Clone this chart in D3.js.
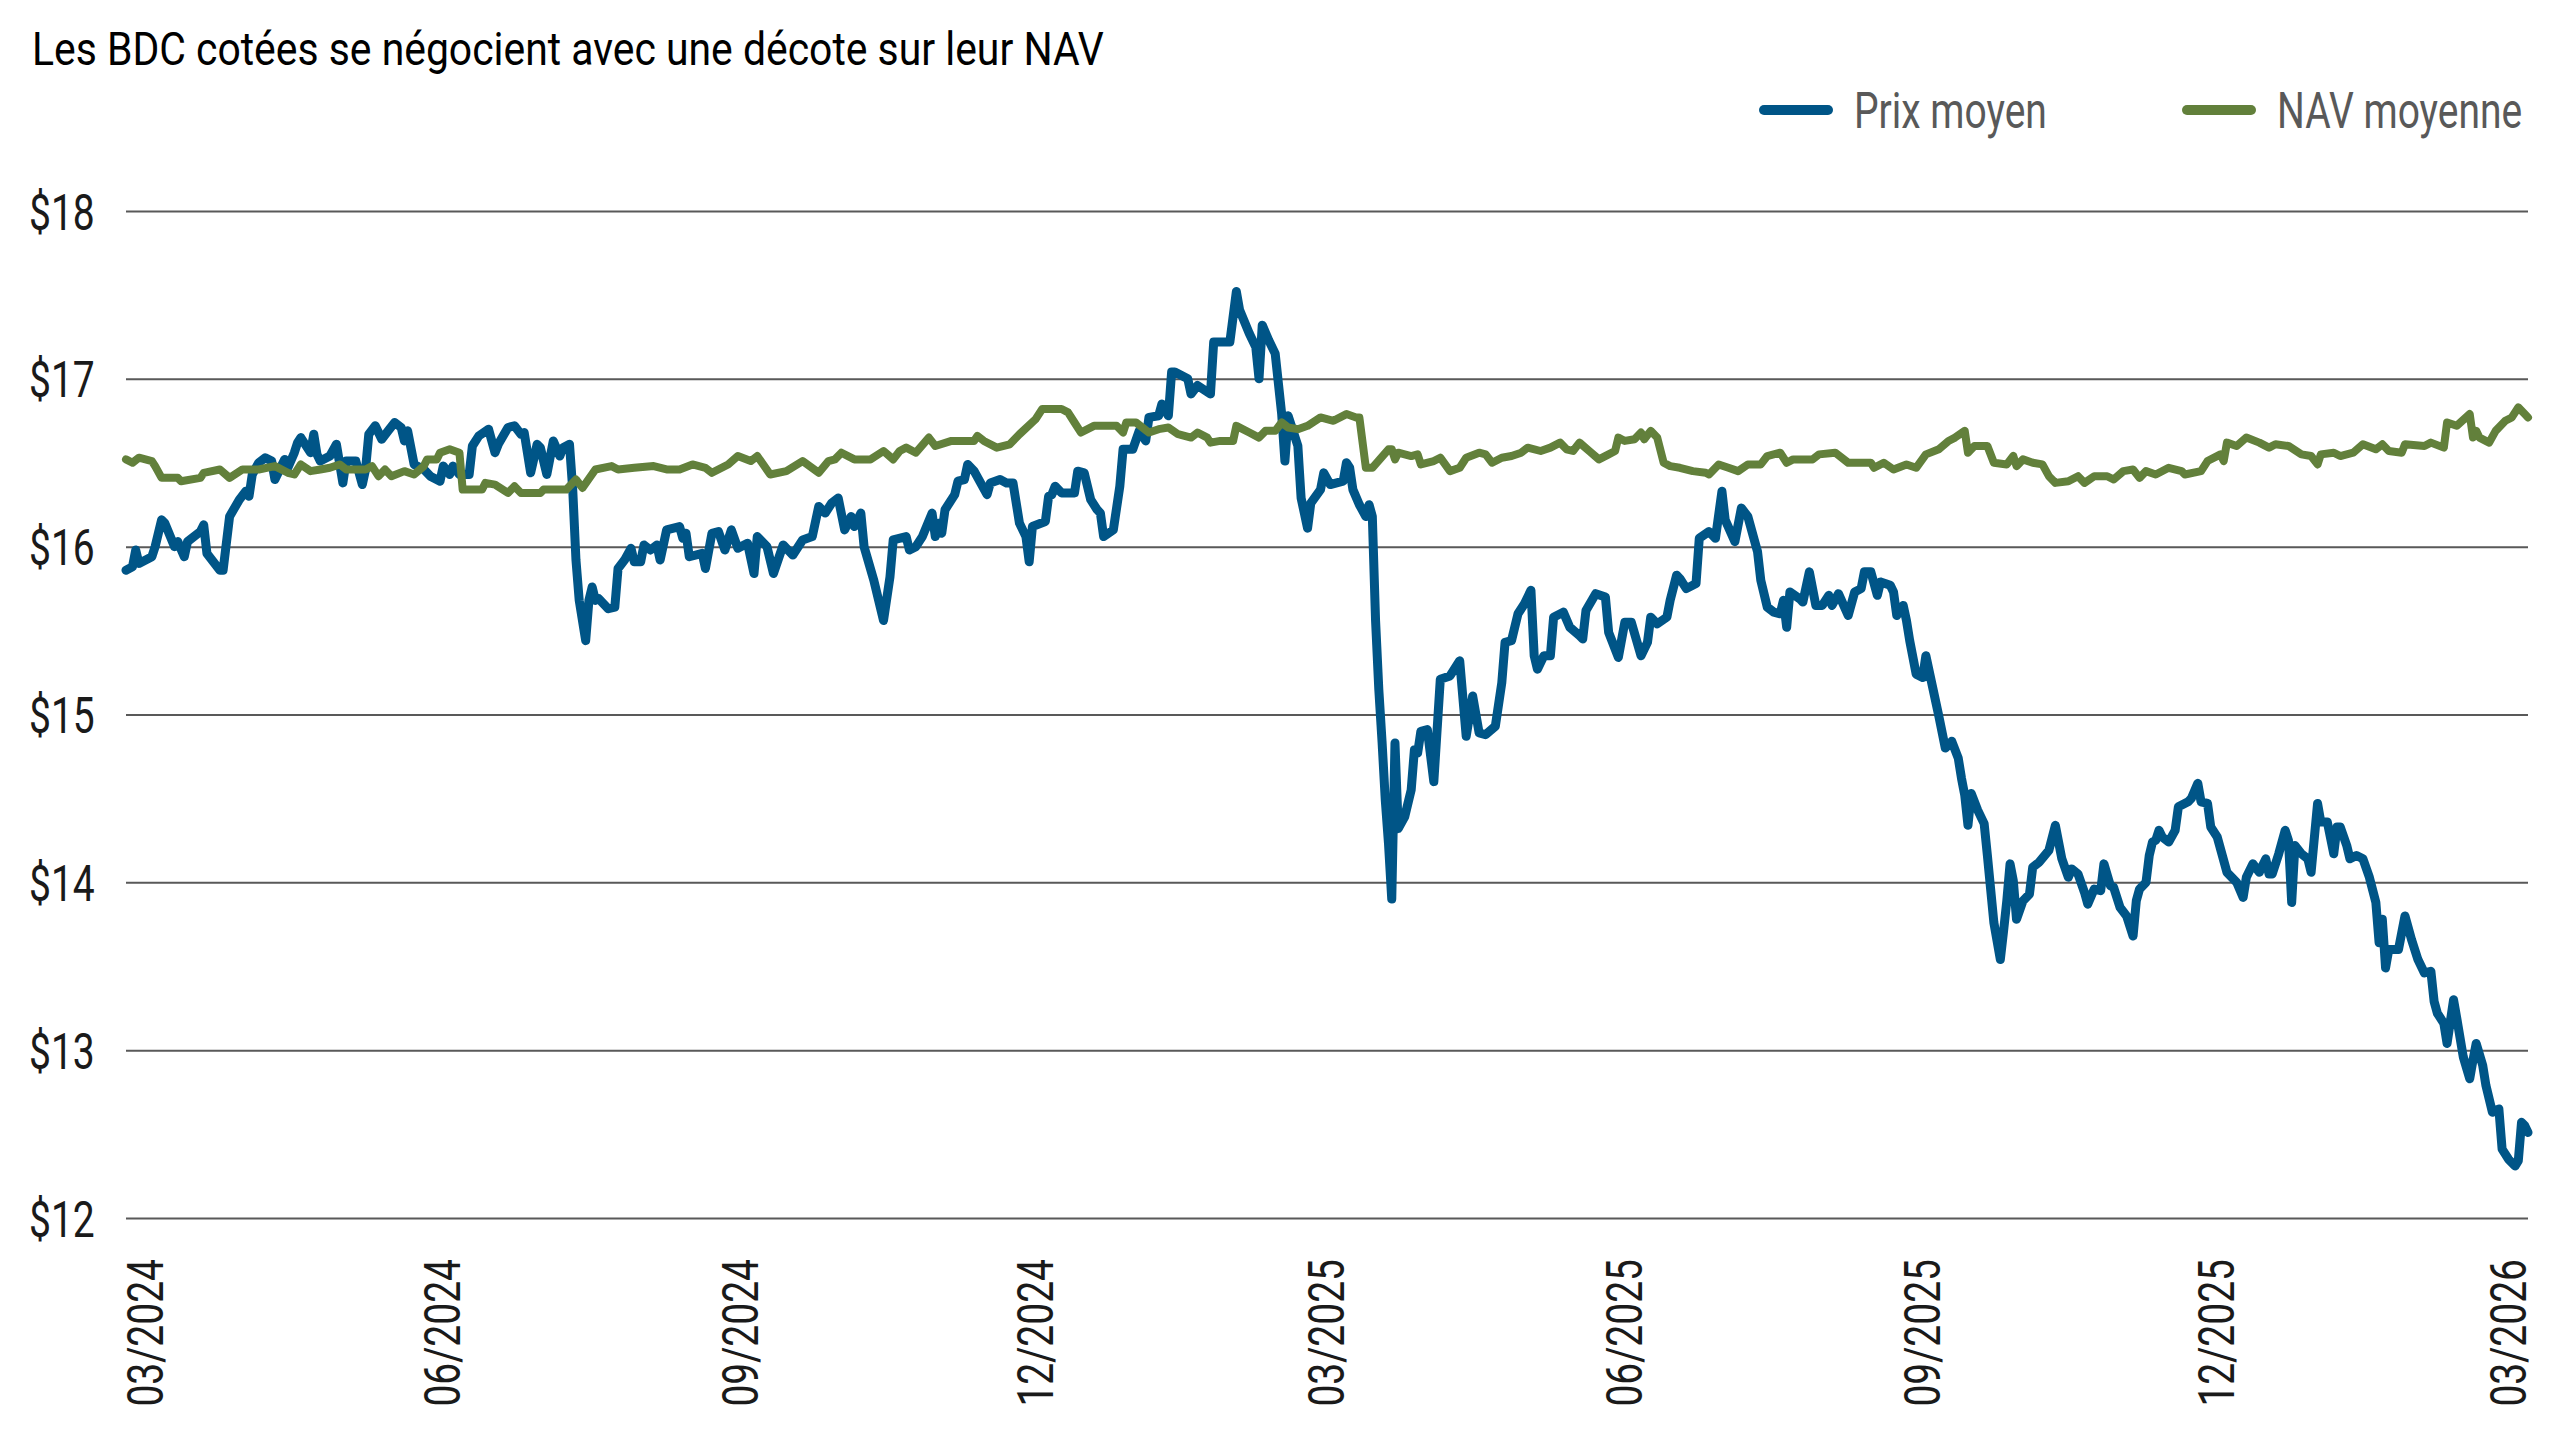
<!DOCTYPE html>
<html lang="fr">
<head>
<meta charset="UTF-8">
<title>Les BDC cotées se négocient avec une décote sur leur NAV</title>
<script src="https://d3js.org/d3.v7.min.js"></script>
<style>
  body { margin: 0; background: #fff; }
  svg { display: block; font-family: Roboto, "Liberation Sans", sans-serif; }
</style>
</head>
<body>
<div id="chart"></div>
<script>
const titleText = "Les BDC cotées se négocient avec une décote sur leur NAV";
const seriesNames = ["Prix moyen", "NAV moyenne"];
const seriesColors = ["#005587", "#62803b"];
const yTicks = [12, 13, 14, 15, 16, 17, 18];
const xTickDates = ["2024-03-01", "2024-06-01", "2024-09-01", "2024-12-01", "2025-03-01",
  "2025-06-01", "2025-09-01", "2025-12-01", "2026-03-01"];

// Prix moyen (one month per line)
const prixDates = [
  "2024-03-01","2024-03-03","2024-03-04","2024-03-05","2024-03-09","2024-03-10","2024-03-12","2024-03-13","2024-03-16","2024-03-17","2024-03-19","2024-03-20","2024-03-24","2024-03-25","2024-03-26","2024-03-30","2024-03-31",
  "2024-04-02","2024-04-05","2024-04-07","2024-04-08","2024-04-09","2024-04-11","2024-04-13","2024-04-15","2024-04-16","2024-04-17","2024-04-19","2024-04-20","2024-04-22","2024-04-23","2024-04-24","2024-04-25","2024-04-27","2024-04-28","2024-04-29","2024-04-30",
  "2024-05-03","2024-05-05","2024-05-07","2024-05-08","2024-05-11","2024-05-13","2024-05-14","2024-05-15","2024-05-17","2024-05-19","2024-05-21","2024-05-23","2024-05-25","2024-05-26","2024-05-27","2024-05-29",
  "2024-06-01","2024-06-03","2024-06-06","2024-06-07","2024-06-09","2024-06-10","2024-06-12","2024-06-15","2024-06-16","2024-06-18","2024-06-21","2024-06-23","2024-06-24","2024-06-27","2024-06-29",
  "2024-07-01","2024-07-02","2024-07-04","2024-07-06","2024-07-07","2024-07-09","2024-07-11","2024-07-13","2024-07-14","2024-07-16","2024-07-17","2024-07-18","2024-07-19","2024-07-21","2024-07-22","2024-07-23","2024-07-24","2024-07-25","2024-07-28","2024-07-30","2024-07-31",
  "2024-08-02","2024-08-04","2024-08-05","2024-08-07","2024-08-08","2024-08-10","2024-08-12","2024-08-13","2024-08-15","2024-08-19","2024-08-20","2024-08-21","2024-08-22","2024-08-26","2024-08-27","2024-08-29","2024-08-31",
  "2024-09-02","2024-09-03","2024-09-04","2024-09-06","2024-09-09","2024-09-11","2024-09-12","2024-09-15","2024-09-17","2024-09-20","2024-09-23","2024-09-26","2024-09-29",
  "2024-10-01","2024-10-03","2024-10-05","2024-10-07","2024-10-09","2024-10-11","2024-10-12","2024-10-14","2024-10-15","2024-10-18","2024-10-21","2024-10-23","2024-10-24","2024-10-28","2024-10-29","2024-10-31",
  "2024-11-02","2024-11-05","2024-11-06","2024-11-07","2024-11-08","2024-11-09","2024-11-12","2024-11-13","2024-11-15","2024-11-16","2024-11-18","2024-11-20","2024-11-22","2024-11-23","2024-11-26","2024-11-28","2024-11-30",
  "2024-12-02","2024-12-04","2024-12-05","2024-12-06","2024-12-10","2024-12-11","2024-12-12","2024-12-13","2024-12-15","2024-12-19","2024-12-20","2024-12-22","2024-12-24","2024-12-26","2024-12-27","2024-12-28","2024-12-31",
  "2025-01-02","2025-01-03","2025-01-06","2025-01-08","2025-01-10","2025-01-11","2025-01-14","2025-01-15","2025-01-17","2025-01-18","2025-01-19","2025-01-23","2025-01-24","2025-01-26","2025-01-30","2025-01-31",
  "2025-02-05","2025-02-07","2025-02-08","2025-02-11","2025-02-13","2025-02-14","2025-02-15","2025-02-17","2025-02-19","2025-02-21","2025-02-22","2025-02-23","2025-02-25","2025-02-26","2025-02-27",
  "2025-03-01","2025-03-02","2025-03-05","2025-03-06","2025-03-08","2025-03-10","2025-03-12","2025-03-13","2025-03-14","2025-03-15","2025-03-17","2025-03-19","2025-03-20","2025-03-21","2025-03-22","2025-03-23","2025-03-24","2025-03-25","2025-03-26","2025-03-27","2025-03-28","2025-03-29","2025-03-31",
  "2025-04-02","2025-04-03","2025-04-04","2025-04-05","2025-04-07","2025-04-09","2025-04-11","2025-04-14","2025-04-17","2025-04-19","2025-04-21","2025-04-23","2025-04-25","2025-04-28","2025-04-30",
  "2025-05-01","2025-05-03","2025-05-05","2025-05-07","2025-05-09","2025-05-10","2025-05-11","2025-05-13","2025-05-15","2025-05-16","2025-05-19","2025-05-21","2025-05-24","2025-05-25","2025-05-26","2025-05-29",
  "2025-06-01","2025-06-02","2025-06-05","2025-06-07","2025-06-09","2025-06-12","2025-06-14","2025-06-15","2025-06-17","2025-06-20","2025-06-21","2025-06-23","2025-06-24","2025-06-26","2025-06-29","2025-06-30",
  "2025-07-03","2025-07-05","2025-07-07","2025-07-08","2025-07-11","2025-07-13","2025-07-15","2025-07-17","2025-07-18","2025-07-19","2025-07-21","2025-07-23","2025-07-25","2025-07-26","2025-07-27","2025-07-28","2025-07-31",
  "2025-08-01","2025-08-03","2025-08-05","2025-08-07","2025-08-09","2025-08-10","2025-08-12","2025-08-15","2025-08-17","2025-08-19","2025-08-20","2025-08-22","2025-08-24","2025-08-25","2025-08-28","2025-08-29","2025-08-30",
  "2025-09-01","2025-09-02","2025-09-03","2025-09-05","2025-09-07","2025-09-08","2025-09-10","2025-09-12","2025-09-14","2025-09-16","2025-09-18","2025-09-19","2025-09-20","2025-09-21","2025-09-22","2025-09-24","2025-09-26","2025-09-27","2025-09-28","2025-09-29",
  "2025-10-01","2025-10-02","2025-10-03","2025-10-04","2025-10-05","2025-10-06","2025-10-08","2025-10-10","2025-10-11","2025-10-13","2025-10-16","2025-10-18","2025-10-20","2025-10-22","2025-10-23","2025-10-25","2025-10-27","2025-10-28","2025-10-30",
  "2025-11-01","2025-11-02","2025-11-04","2025-11-05","2025-11-07","2025-11-09","2025-11-11","2025-11-12","2025-11-13","2025-11-15","2025-11-16","2025-11-17","2025-11-18","2025-11-19","2025-11-20","2025-11-22","2025-11-24","2025-11-25","2025-11-28","2025-11-29",
  "2025-12-01","2025-12-02","2025-12-04","2025-12-05","2025-12-07","2025-12-08","2025-12-10","2025-12-13","2025-12-15","2025-12-16","2025-12-18","2025-12-20","2025-12-22","2025-12-23","2025-12-24","2025-12-26","2025-12-28","2025-12-29","2025-12-30","2025-12-31",
  "2026-01-02","2026-01-04","2026-01-05","2026-01-07","2026-01-08","2026-01-10","2026-01-12","2026-01-13","2026-01-14","2026-01-16","2026-01-17","2026-01-19","2026-01-21","2026-01-23","2026-01-25","2026-01-26","2026-01-27","2026-01-28","2026-01-29",
  "2026-02-01","2026-02-03","2026-02-05","2026-02-07","2026-02-09","2026-02-11","2026-02-12","2026-02-13","2026-02-15","2026-02-16","2026-02-18","2026-02-19","2026-02-21","2026-02-23","2026-02-24","2026-02-25","2026-02-27","2026-02-28",
  "2026-03-02","2026-03-04","2026-03-05","2026-03-07","2026-03-09","2026-03-10","2026-03-11","2026-03-12","2026-03-13"
];
const prixValues = [
  15.86,15.88,15.98,15.90,15.94,16.00,16.16,16.14,16.00,16.03,15.94,16.03,16.09,16.13,15.96,15.86,15.86,
  16.18,16.28,16.33,16.30,16.43,16.50,16.53,16.51,16.40,16.44,16.52,16.47,16.56,16.62,16.65,16.62,16.56,16.67,16.55,16.51,
  16.54,16.61,16.38,16.51,16.51,16.37,16.46,16.67,16.72,16.64,16.69,16.74,16.71,16.63,16.69,16.49,
  16.46,16.42,16.39,16.48,16.43,16.48,16.43,16.43,16.60,16.66,16.70,16.56,16.61,16.71,16.72,
  16.67,16.68,16.44,16.61,16.59,16.43,16.63,16.54,16.59,16.61,16.34,15.92,15.68,15.44,15.68,15.76,15.68,15.69,15.63,15.64,15.87,
  15.92,15.99,15.91,15.91,16.01,15.98,16.01,15.92,16.10,16.12,16.05,16.08,15.94,15.96,15.87,16.08,16.09,
  15.98,16.04,16.10,15.99,16.02,15.84,16.06,16.00,15.84,16.01,15.95,16.04,16.06,
  16.24,16.20,16.26,16.29,16.10,16.18,16.12,16.20,16.00,15.80,15.56,15.82,16.04,16.06,15.98,16.00,
  16.06,16.20,16.06,16.14,16.08,16.22,16.31,16.39,16.40,16.49,16.45,16.38,16.31,16.38,16.40,16.38,16.38,
  16.14,16.06,15.91,16.12,16.15,16.30,16.31,16.36,16.32,16.32,16.45,16.44,16.28,16.22,16.20,16.06,16.10,
  16.36,16.58,16.58,16.69,16.63,16.77,16.78,16.85,16.78,17.04,17.04,17.00,16.91,16.96,16.91,17.22,
  17.22,17.52,17.41,17.27,17.19,17.00,17.32,17.23,17.15,16.79,16.51,16.78,16.66,16.60,16.29,
  16.11,16.26,16.34,16.44,16.37,16.38,16.39,16.50,16.47,16.34,16.25,16.18,16.25,16.18,15.56,15.15,14.84,14.49,14.23,13.90,14.83,14.32,14.39,
  14.55,14.79,14.77,14.90,14.91,14.60,15.21,15.23,15.32,14.87,15.11,14.89,14.88,14.93,15.19,
  15.43,15.44,15.60,15.66,15.74,15.35,15.27,15.35,15.35,15.58,15.61,15.52,15.47,15.45,15.62,15.72,
  15.70,15.49,15.34,15.55,15.55,15.35,15.43,15.58,15.54,15.58,15.68,15.83,15.81,15.75,15.78,16.05,
  16.09,16.05,16.33,16.16,16.03,16.23,16.18,16.04,15.97,15.80,15.64,15.61,15.60,15.68,15.52,15.73,15.69,
  15.67,15.85,15.65,15.65,15.71,15.65,15.72,15.59,15.73,15.75,15.85,15.85,15.71,15.79,15.77,15.73,15.59,
  15.65,15.56,15.44,15.24,15.22,15.35,15.17,14.99,14.80,14.84,14.74,14.62,14.52,14.34,14.53,14.43,14.35,14.16,13.96,13.76,
  13.54,13.71,13.89,14.11,14.01,13.78,13.89,13.93,14.09,14.12,14.19,14.34,14.14,14.03,14.08,14.05,13.94,13.87,13.96,
  13.95,14.11,13.98,13.97,13.85,13.80,13.68,13.89,13.96,14.00,14.16,14.24,14.25,14.31,14.27,14.24,14.31,14.45,14.48,14.50,
  14.59,14.48,14.47,14.33,14.27,14.20,14.06,14.00,13.91,14.03,14.11,14.06,14.14,14.05,14.05,14.17,14.31,14.25,13.88,14.22,
  14.17,14.14,14.06,14.47,14.36,14.36,14.17,14.33,14.33,14.22,14.14,14.16,14.14,14.03,13.88,13.64,13.78,13.49,13.60,
  13.60,13.80,13.66,13.54,13.46,13.47,13.29,13.22,13.16,13.04,13.30,13.19,12.96,12.83,12.94,13.04,12.91,12.79,
  12.63,12.65,12.41,12.35,12.31,12.34,12.57,12.55,12.51
];

// NAV moyenne (one month per line)
const navDates = [
  "2024-03-01","2024-03-03","2024-03-05","2024-03-09","2024-03-10","2024-03-12","2024-03-17","2024-03-18","2024-03-24","2024-03-25","2024-03-30",
  "2024-04-02","2024-04-06","2024-04-11","2024-04-16","2024-04-20","2024-04-22","2024-04-24","2024-04-27","2024-04-30",
  "2024-05-03","2024-05-06","2024-05-08","2024-05-14","2024-05-16","2024-05-18","2024-05-20","2024-05-22","2024-05-26","2024-05-29",
  "2024-06-01","2024-06-02","2024-06-05","2024-06-06","2024-06-09","2024-06-12","2024-06-13","2024-06-19","2024-06-20","2024-06-23","2024-06-27","2024-06-29",
  "2024-07-01","2024-07-07","2024-07-08","2024-07-15","2024-07-18","2024-07-20","2024-07-24","2024-07-29","2024-07-31",
  "2024-08-05","2024-08-11","2024-08-15","2024-08-19","2024-08-23","2024-08-27","2024-08-29",
  "2024-09-03","2024-09-06","2024-09-10","2024-09-12","2024-09-16","2024-09-21","2024-09-26",
  "2024-10-01","2024-10-04","2024-10-06","2024-10-08","2024-10-12","2024-10-17","2024-10-21","2024-10-24","2024-10-26","2024-10-28","2024-10-31",
  "2024-11-04","2024-11-06","2024-11-11","2024-11-18","2024-11-19","2024-11-21","2024-11-25","2024-11-29",
  "2024-12-02","2024-12-07","2024-12-09","2024-12-15","2024-12-17","2024-12-19","2024-12-21","2024-12-25",
  "2025-01-01","2025-01-03","2025-01-04","2025-01-07","2025-01-11","2025-01-14","2025-01-17","2025-01-20","2025-01-24","2025-01-26","2025-01-29","2025-01-30",
  "2025-02-02","2025-02-06","2025-02-07","2025-02-11","2025-02-14","2025-02-16","2025-02-19","2025-02-21","2025-02-23","2025-02-26",
  "2025-03-01","2025-03-05","2025-03-09","2025-03-13","2025-03-16","2025-03-17","2025-03-19","2025-03-21","2025-03-26","2025-03-27","2025-03-28","2025-03-29",
  "2025-04-02","2025-04-04","2025-04-05","2025-04-09","2025-04-11","2025-04-14","2025-04-17","2025-04-19","2025-04-23","2025-04-25","2025-04-27","2025-04-30",
  "2025-05-03","2025-05-06","2025-05-08","2025-05-12","2025-05-15","2025-05-18","2025-05-20","2025-05-22","2025-05-24","2025-05-27","2025-05-30",
  "2025-06-02","2025-06-04","2025-06-05","2025-06-07","2025-06-10","2025-06-12","2025-06-13","2025-06-15","2025-06-17","2025-06-19","2025-06-21","2025-06-24","2025-06-28",
  "2025-07-02","2025-07-03","2025-07-06","2025-07-09","2025-07-12","2025-07-15","2025-07-19","2025-07-21","2025-07-25","2025-07-27","2025-07-29",
  "2025-08-04","2025-08-06","2025-08-11","2025-08-15","2025-08-22","2025-08-23","2025-08-26","2025-08-29",
  "2025-09-02","2025-09-05","2025-09-08","2025-09-12","2025-09-15","2025-09-17","2025-09-20","2025-09-21","2025-09-23","2025-09-27","2025-09-29",
  "2025-10-03","2025-10-05","2025-10-06","2025-10-08","2025-10-11","2025-10-14","2025-10-16","2025-10-18","2025-10-22","2025-10-25","2025-10-27","2025-10-30",
  "2025-11-03","2025-11-05","2025-11-08","2025-11-11","2025-11-13","2025-11-15","2025-11-18","2025-11-22","2025-11-26","2025-11-27",
  "2025-12-02","2025-12-04","2025-12-08","2025-12-09","2025-12-10","2025-12-13","2025-12-16","2025-12-20","2025-12-23","2025-12-25","2025-12-29",
  "2026-01-02","2026-01-05","2026-01-07","2026-01-08","2026-01-12","2026-01-14","2026-01-18","2026-01-21","2026-01-25","2026-01-27","2026-01-29",
  "2026-02-02","2026-02-03","2026-02-09","2026-02-11","2026-02-15","2026-02-16","2026-02-19","2026-02-23","2026-02-24","2026-02-25","2026-02-26",
  "2026-03-01","2026-03-03","2026-03-06","2026-03-08","2026-03-10","2026-03-12","2026-03-13"
];
const navValues = [
  16.52,16.50,16.53,16.51,16.48,16.41,16.41,16.39,16.41,16.44,16.46,
  16.41,16.46,16.46,16.48,16.44,16.43,16.49,16.45,16.46,
  16.47,16.49,16.46,16.46,16.48,16.42,16.46,16.42,16.45,16.43,
  16.48,16.52,16.52,16.56,16.58,16.56,16.34,16.34,16.38,16.37,16.32,16.36,
  16.32,16.32,16.34,16.34,16.40,16.35,16.46,16.48,16.46,
  16.47,16.48,16.46,16.46,16.49,16.47,16.44,
  16.49,16.54,16.51,16.54,16.43,16.45,16.51,
  16.44,16.51,16.52,16.56,16.52,16.52,16.57,16.52,16.57,16.59,16.56,
  16.65,16.60,16.63,16.63,16.66,16.63,16.59,16.61,
  16.67,16.76,16.82,16.82,16.80,16.74,16.68,16.72,
  16.72,16.68,16.74,16.74,16.68,16.70,16.71,16.67,16.65,16.68,16.65,16.62,
  16.63,16.63,16.72,16.68,16.65,16.69,16.69,16.74,16.71,16.70,
  16.72,16.77,16.75,16.79,16.77,16.77,16.47,16.47,16.58,16.58,16.52,16.56,
  16.54,16.55,16.49,16.51,16.53,16.45,16.47,16.53,16.56,16.55,16.50,16.53,
  16.54,16.56,16.59,16.57,16.59,16.62,16.58,16.57,16.62,16.57,16.52,
  16.55,16.57,16.65,16.63,16.64,16.68,16.64,16.69,16.65,16.50,16.48,16.47,16.45,
  16.44,16.43,16.49,16.47,16.45,16.49,16.49,16.54,16.56,16.50,16.52,
  16.52,16.55,16.56,16.50,16.50,16.47,16.50,16.46,
  16.49,16.47,16.55,16.58,16.63,16.65,16.69,16.56,16.60,16.60,16.50,
  16.49,16.54,16.48,16.52,16.50,16.49,16.42,16.38,16.39,16.42,16.38,16.42,
  16.42,16.40,16.45,16.46,16.41,16.45,16.43,16.47,16.45,16.43,
  16.45,16.51,16.55,16.51,16.62,16.60,16.65,16.62,16.59,16.61,16.60,
  16.55,16.54,16.49,16.55,16.56,16.54,16.56,16.61,16.58,16.61,16.57,
  16.56,16.61,16.60,16.62,16.59,16.74,16.72,16.79,16.65,16.69,16.65,
  16.62,16.69,16.75,16.77,16.83,16.79,16.77
];

const width = 2560, height = 1440;
const plot = { left: 126, right: 2528, top: 211, bottom: 1218 };
const fontSize = 50;
const squeeze = 0.78; // condensed look
const parse = d3.timeParse("%Y-%m-%d");

const svg = d3.select("#chart").append("svg")
  .attr("width", width)
  .attr("height", height);

const x = d3.scaleTime()
  .domain([parse("2024-03-01"), parse("2026-03-13")])
  .range([plot.left, plot.right]);

const y = d3.scaleLinear()
  .domain([12, 18])
  .range([plot.bottom, plot.top]);

// gridlines + y labels
const gy = svg.append("g")
  .attr("transform", `translate(${plot.left},0)`)
  .call(d3.axisLeft(y)
    .tickValues(yTicks)
    .tickSize(-(plot.right - plot.left))
    .tickFormat(d => "$" + d));
gy.attr("font-family", null).attr("font-size", null);
gy.select(".domain").remove();
gy.selectAll(".tick line")
  .attr("stroke", "#595959")
  .attr("stroke-width", 2);
gy.selectAll(".tick text")
  .attr("x", 0)
  .attr("dy", null)
  .attr("text-anchor", "start")
  .attr("transform", `translate(${29 - plot.left},18) scale(${squeeze},1)`)
  .attr("font-size", fontSize)
  .attr("fill", "#1a1a1a");

// x labels, rotated
const gx = svg.append("g")
  .attr("transform", `translate(0,${plot.bottom})`)
  .call(d3.axisBottom(x)
    .tickValues(xTickDates.map(parse))
    .tickSize(0)
    .tickFormat(d3.timeFormat("%m/%Y")));
gx.attr("font-family", null).attr("font-size", null);
gx.select(".domain").remove();
gx.selectAll(".tick text")
  .attr("y", 0)
  .attr("dy", null)
  .attr("text-anchor", "end")
  .attr("transform", `translate(36,41) rotate(-90) scale(${squeeze},1)`)
  .attr("font-size", fontSize)
  .attr("fill", "#1a1a1a");

// lines
const prix = prixDates.map((d, i) => ({ date: parse(d), value: prixValues[i] }));
const nav = navDates.map((d, i) => ({ date: parse(d), value: navValues[i] }));

const line = d3.line()
  .x(d => x(d.date))
  .y(d => y(d.value));

svg.append("path")
  .datum(prix)
  .attr("d", line)
  .attr("fill", "none")
  .attr("stroke", seriesColors[0])
  .attr("stroke-width", 9)
  .attr("stroke-linejoin", "round")
  .attr("stroke-linecap", "round");

svg.append("path")
  .datum(nav)
  .attr("d", line)
  .attr("fill", "none")
  .attr("stroke", seriesColors[1])
  .attr("stroke-width", 8)
  .attr("stroke-linejoin", "round")
  .attr("stroke-linecap", "round");

// title
svg.append("text")
  .attr("transform", "translate(32,65) scale(0.87,1)")
  .attr("font-size", 47)
  .attr("fill", "#000")
  .text(titleText);

// legend
const legendX = [1764, 2187];
const legend = svg.selectAll(".legend")
  .data(seriesNames)
  .enter().append("g")
  .attr("class", "legend")
  .attr("transform", (d, i) => `translate(${legendX[i]},110)`);

legend.append("line")
  .attr("x1", 0)
  .attr("x2", 64)
  .attr("stroke", (d, i) => seriesColors[i])
  .attr("stroke-width", 10)
  .attr("stroke-linecap", "round");

legend.append("text")
  .attr("transform", `translate(90,18) scale(${squeeze},1)`)
  .attr("font-size", fontSize)
  .attr("fill", "#595959")
  .text(d => d);
</script>
</body>
</html>
